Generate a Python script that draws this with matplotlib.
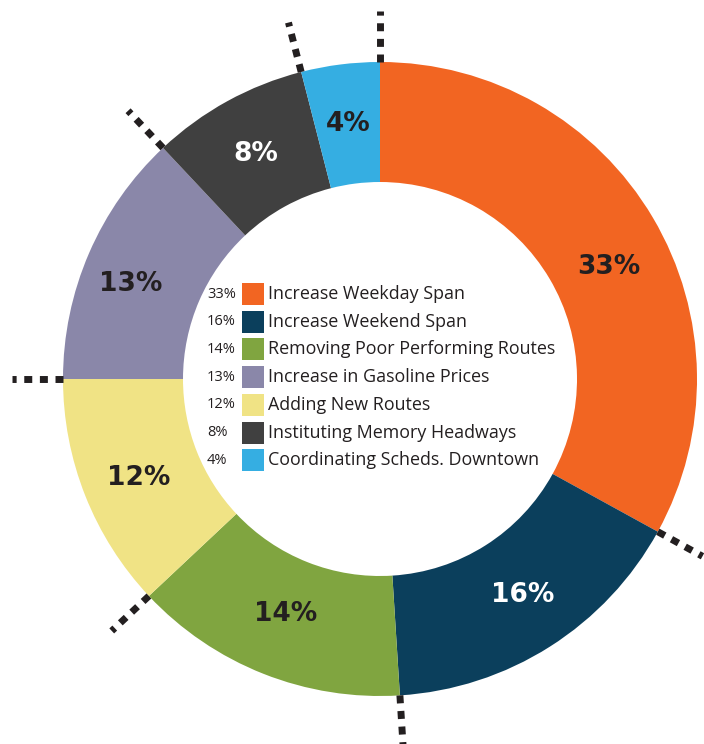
import matplotlib.pyplot as plt
import numpy as np
from matplotlib.patches import Rectangle

categories = ['Increase Weekday Span', 'Increase Weekend Span', 'Removing Poor Performing Routes',
              'Increase in Gasoline Prices', 'Adding New Routes', 'Instituting Memory Headways',
              'Coordinating Scheds. Downtown']
legend_values = [33, 16, 14, 13, 12, 8, 4]
colors_by_cat = ['#F26522', '#0B3F5C', '#80A540', '#8A87A9', '#F0E385', '#404040', '#35AEE2']

# ring order clockwise from 12 o'clock
ring_order = [0, 1, 2, 4, 3, 5, 6]
ring_values = [legend_values[i] for i in ring_order]
ring_colors = [colors_by_cat[i] for i in ring_order]
label_colors = ['#231F20', 'white', '#231F20', '#231F20', '#231F20', 'white', '#231F20']
# small nudges (px, x right / y down) for the in-ring labels, as placed in the original
label_nudge = [(8, 19), (5, -1), (0, -4), (-2, 4), (-13, 7), (0, 0), (0, 0)]

W, H = 704, 744
cx, cy = 380, H - 379
r_out, r_in = 317, 197

fig = plt.figure(figsize=(W / 100, H / 100), dpi=100)
ax = fig.add_axes([0, 0, 1, 1])

wedges, _ = ax.pie(ring_values, colors=ring_colors, startangle=90, counterclock=False,
                   radius=r_out, center=(cx, cy),
                   wedgeprops=dict(width=r_out - r_in, linewidth=0))

r_mid = (r_out + r_in) / 2
for w, v, c, (dx, dy) in zip(wedges, ring_values, label_colors, label_nudge):
    ang = np.deg2rad((w.theta1 + w.theta2) / 2)
    ax.text(cx + r_mid * np.cos(ang) + dx, cy + r_mid * np.sin(ang) - dy, f'{v}%',
            ha='center', va='center', fontsize=19, fontweight='bold', color=c,
            family='DejaVu Sans')

# dotted separators outside the ring
bounds = [90]
for v in ring_values:
    bounds.append(bounds[-1] - v * 3.6)
for b in bounds[:-1]:
    a = np.deg2rad(b)
    ax.plot([cx + r_out * np.cos(a), cx + 368 * np.cos(a)],
            [cy + r_out * np.sin(a), cy + 368 * np.sin(a)],
            color='#231F20', lw=5, linestyle=(0, (1.15, 1.1)), solid_capstyle='butt',
            dash_capstyle='butt')

# legend in the hole
row0 = H - 294
for i, (name, v, col) in enumerate(zip(categories, legend_values, colors_by_cat)):
    y = row0 - i * 27.7
    ax.text(207, y, f'{v}%', ha='left', va='center', fontsize=10.5, color='#231F20',
            family='Open Sans')
    ax.add_patch(Rectangle((242, y - 11), 22, 22, color=col, lw=0))
    ax.text(268, y, name, ha='left', va='center', fontsize=12.9, color='#231F20',
            family='Open Sans')

ax.set_xlim(0, W)
ax.set_ylim(0, H)
ax.set_aspect('auto')
ax.axis('off')

fig.savefig('out.png', dpi=100)
